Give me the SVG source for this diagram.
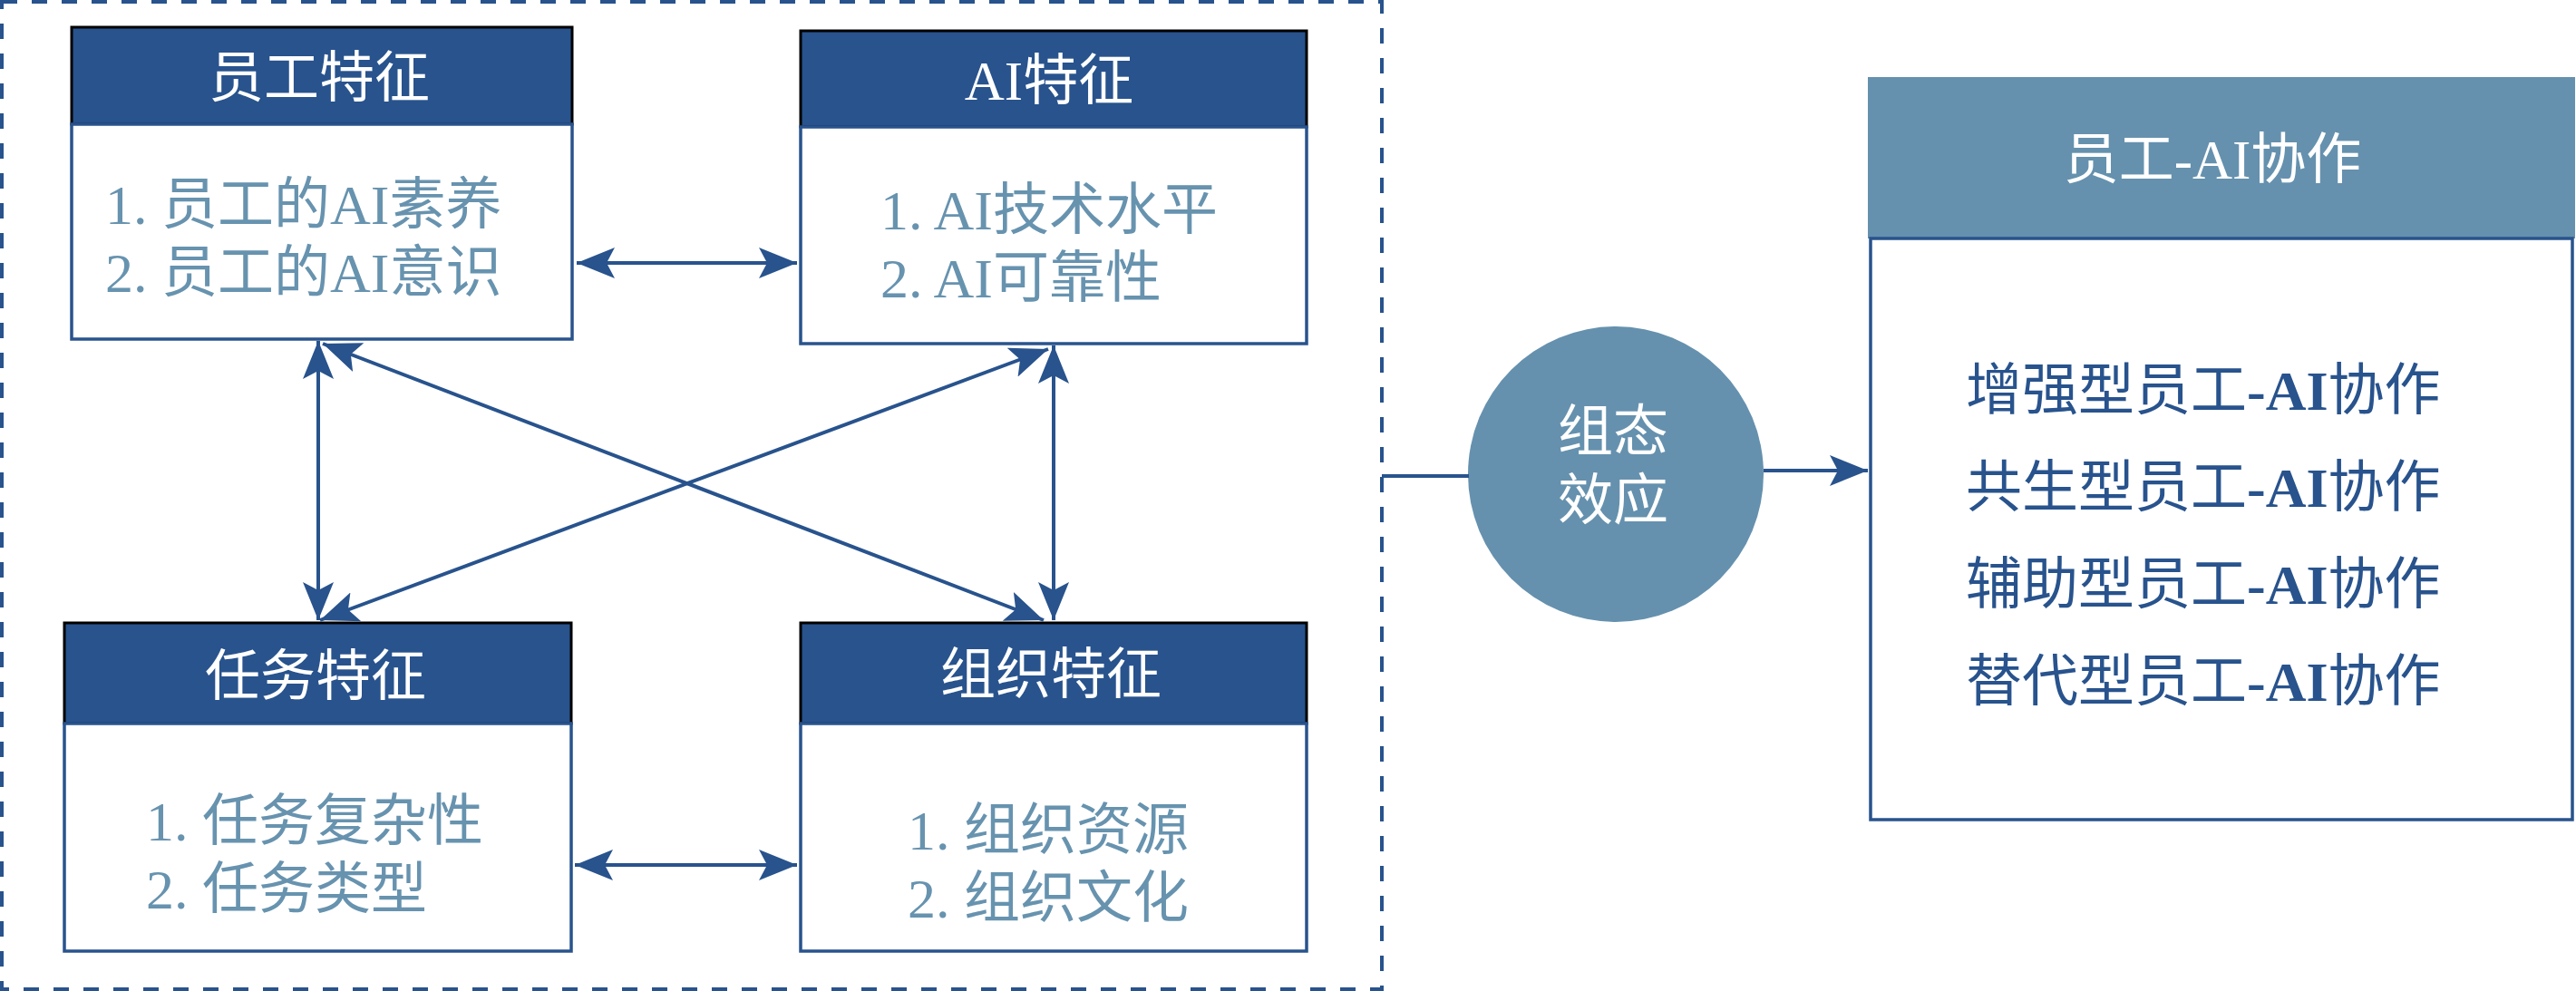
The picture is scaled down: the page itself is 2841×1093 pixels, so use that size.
<svg xmlns="http://www.w3.org/2000/svg" width="2841" height="1093" viewBox="0 0 2841 1093">
<defs>
<style>
.hdr{fill:#28538D;stroke:#000;stroke-width:3}
.body{fill:#fff;stroke:#28538D;stroke-width:3.5}
.ttl{font-family:"Liberation Serif","Noto Sans CJK SC",serif;font-size:61px;fill:#fff;text-anchor:middle}
.itm{font-family:"Liberation Serif","Noto Sans CJK SC",serif;font-size:62px;fill:#6793AF}
.con{stroke:#28538D;stroke-width:4;fill:none}
.res{font-family:"Liberation Serif","Noto Sans CJK SC",serif;font-size:62px;fill:#28538D}
.b{font-weight:bold}
</style>
<marker id="ah" viewBox="0 0 42 34" refX="42" refY="17" markerWidth="42" markerHeight="34" markerUnits="userSpaceOnUse" orient="auto-start-reverse">
<path d="M42,17 L0,0 L9,17 L0,34 Z" fill="#28538D"/>
</marker>
</defs>
<rect width="2841" height="1093" fill="#fff"/>

<g id="scope">
<rect x="2" y="2" width="1522" height="1089" fill="none" stroke="#28538D" stroke-width="4" stroke-dasharray="17 16"/>
</g>

<g id="node-employee">
<rect class="hdr" x="79" y="30" width="552" height="107"/>
<rect class="body" x="79" y="137" width="552" height="237"/>
<text class="ttl" x="352" y="107">员工特征</text>
<text class="itm" x="116" y="247">1. 员工的AI素养</text>
<text class="itm" x="116" y="322">2. 员工的AI意识</text>
</g>

<g id="node-ai">
<rect class="hdr" x="883" y="34" width="558" height="106"/>
<rect class="body" x="883" y="140" width="558" height="239"/>
<text class="ttl" x="1157" y="110">AI特征</text>
<text class="itm" x="971" y="253">1. AI技术水平</text>
<text class="itm" x="971" y="328">2. AI可靠性</text>
</g>

<g id="node-task">
<rect class="hdr" x="71" y="687" width="559" height="111"/>
<rect class="body" x="71" y="798" width="559" height="251"/>
<text class="ttl" x="348" y="767">任务特征</text>
<text class="itm" x="161" y="927">1. 任务复杂性</text>
<text class="itm" x="161" y="1002">2. 任务类型</text>
</g>

<g id="node-org">
<rect class="hdr" x="883" y="687" width="558" height="111"/>
<rect class="body" x="883" y="798" width="558" height="251"/>
<text class="ttl" x="1159" y="765">组织特征</text>
<text class="itm" x="1001" y="937">1. 组织资源</text>
<text class="itm" x="1001" y="1012">2. 组织文化</text>
</g>

<g id="node-config">
<circle cx="1782" cy="523" r="163" fill="#6591AE"/>
<text class="ttl" x="1779" y="497">组态</text>
<text class="ttl" x="1779" y="573">效应</text>
</g>

<g id="node-collab">
<rect x="2060" y="85" width="780" height="178" fill="#6591AE"/>
<rect class="body" x="2063" y="263" width="774" height="641"/>
<text class="ttl" x="2440" y="197">员工-AI协作</text>
<text class="res" x="2168" y="452">增强型员工<tspan class="b">-AI</tspan>协作</text>
<text class="res" x="2168" y="559">共生型员工<tspan class="b">-AI</tspan>协作</text>
<text class="res" x="2168" y="666">辅助型员工<tspan class="b">-AI</tspan>协作</text>
<text class="res" x="2168" y="773">替代型员工<tspan class="b">-AI</tspan>协作</text>
</g>

<g id="connectors">
<line class="con" x1="636" y1="290" x2="879" y2="290" marker-start="url(#ah)" marker-end="url(#ah)"/>
<line class="con" x1="634" y1="954" x2="879" y2="954" marker-start="url(#ah)" marker-end="url(#ah)"/>
<line class="con" x1="351" y1="376" x2="351" y2="684" marker-start="url(#ah)" marker-end="url(#ah)"/>
<line class="con" x1="1162" y1="381" x2="1162" y2="684" marker-start="url(#ah)" marker-end="url(#ah)"/>
<line class="con" x1="356" y1="379" x2="1151" y2="684" marker-start="url(#ah)" marker-end="url(#ah)"/>
<line class="con" x1="1156" y1="385" x2="353" y2="684" marker-start="url(#ah)" marker-end="url(#ah)"/>
<line class="con" x1="1524" y1="525" x2="1620" y2="525"/>
<line class="con" x1="1945" y1="519" x2="2060" y2="519" marker-end="url(#ah)"/>
</g>
</svg>
